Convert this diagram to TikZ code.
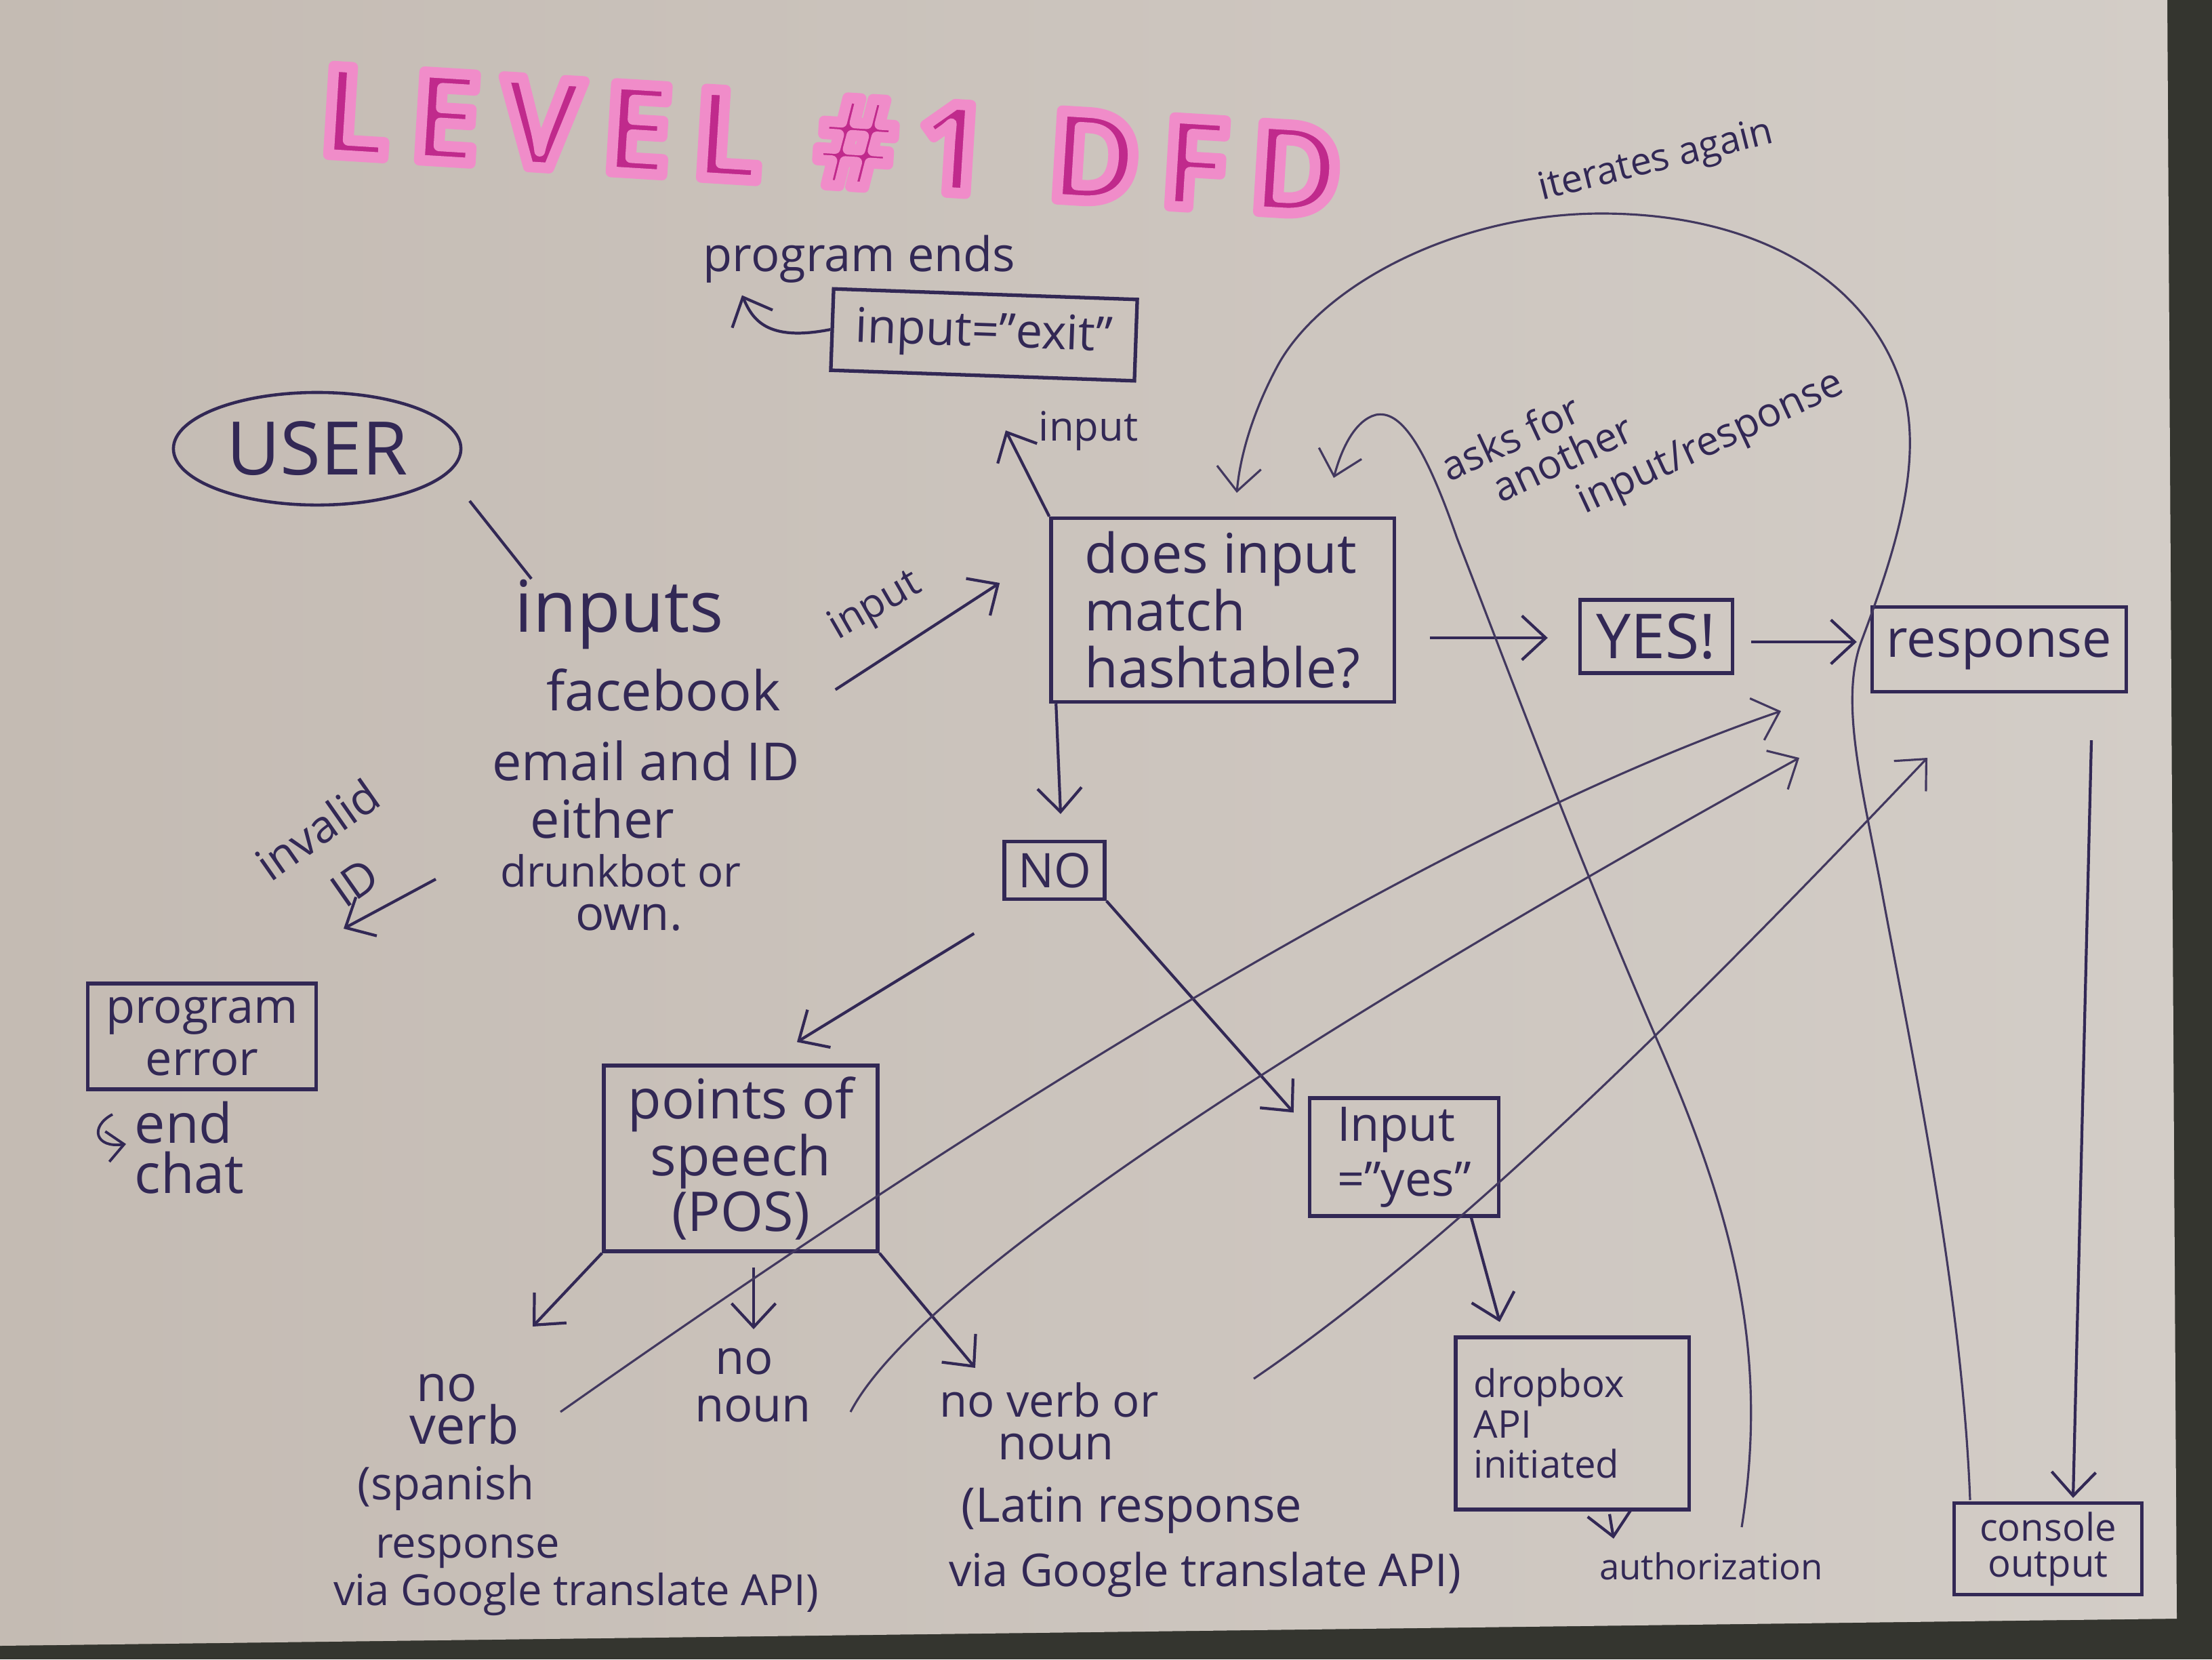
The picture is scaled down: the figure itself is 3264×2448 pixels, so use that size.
\documentclass[tikz,border=0pt]{standalone}
\usepackage{fontspec}
\setmainfont{Open Sans}
\usetikzlibrary{arrows.meta,calc,shapes.geometric}
\definecolor{ink}{HTML}{322855}
\definecolor{paper}{HTML}{CDC5BE}
\definecolor{paperl}{HTML}{C4BBB3}
\definecolor{paperr}{HTML}{D3CDC7}
\definecolor{darkbg}{HTML}{34352F}
\definecolor{mag}{HTML}{C02A8C}
\definecolor{hl}{HTML}{EE88C6}
\newcommand{\tsz}[1]{\fontsize{#1}{#1}\selectfont}
\newcommand{\ttlfont}{\fontsize{52}{56}\selectfont\bfseries\addfontfeature{LetterSpace=17}}
\newcommand{\hlon}{\special{pdf:literal direct 2 Tr 1 j 1 J 4.5 w 0.94 0.55 0.79 RG}}
\newcommand{\hloff}{\special{pdf:literal direct 0 Tr}}
\begin{document}
\begin{tikzpicture}[x=0.01cm,y=-0.01cm,
  lbl/.style={text=ink, inner sep=0pt},
  boxn/.style={draw=ink, line width=1.5pt, text=ink, inner sep=2pt, align=center},
  arr/.style={draw=ink, line width=1.2pt, -{Straight Barb[length=3.5mm,width=6.5mm]}},
  arrs/.style={draw=ink, line width=1.1pt, -{Straight Barb[length=2.5mm,width=4.5mm]}},
  thinarr/.style={draw=ink!90!paper, line width=0.9pt, -{Straight Barb[length=3.5mm,width=6.5mm]}},
  plain/.style={draw=ink, line width=1.2pt}]
\useasboundingbox (0,0) rectangle (3264,2448);
\fill[darkbg] (0,0) rectangle (3264,2448);
\shade[left color=paperl, right color=paperr] (0,0) -- (3198,0) -- (3212,2388) -- (0,2428) -- cycle;

% title: magenta letters stroked with a pink highlighter band
\node[text=mag, inner sep=0pt, rotate=-3.5, font=\ttlfont] (title) at (1226,208) {\hlon LEVEL \#1\hspace*{0.9cm}DFD\hloff};

% user
\node[ellipse, draw=ink, line width=1.3pt, minimum width=4.24cm, minimum height=1.66cm, text=ink, font=\tsz{31}] (user) at (468,662) {USER};
\node[lbl, font=\tsz{30}, anchor=base] (u1) at (914,932) {inputs};
\node[lbl, font=\tsz{23}, anchor=base] (u2) at (979,1048) {facebook};
\node[lbl, font=\tsz{22}, anchor=base] (u3) at (953,1151) {email and ID};
\node[lbl, font=\tsz{22}, anchor=base] (u4) at (889,1236) {either};
\node[lbl, font=\tsz{18}, anchor=base] (u5) at (916,1308) {drunkbot or};
\node[lbl, font=\tsz{20}, anchor=base] (u6) at (928,1372) {own.};
\draw[plain] ($(user.center)+(225,77)$) -- ($(u1.north west)+(25,0)$);

% exit
\node[lbl, font=\tsz{20}, anchor=base] (pend) at (1268,400) {program ends};
\node[boxn, font=\tsz{20}, minimum width=4.48cm, minimum height=1.2cm, rotate=-2] (exit) at (1452,494) {input="exit"};
\draw[arr] (exit.west) .. controls (1130,505) and (1110,470) .. ($(pend.south west)+(58,18)$);

% main decision
\node[boxn, font=\fontsize{23}{24}\selectfont, minimum width=5.06cm, minimum height=2.71cm, align=left] (dib) at (1804,900) {does input\\match\\hashtable?};
\node[lbl, font=\tsz{17}, rotate=30] (inlbl) at (1292,895) {input};
\draw[arr] ($(u2.east)+(80,0)$) -- ($(dib.west)+(-73,-40)$);
\coordinate (intip) at (1484,635);
\draw[arr] (dib.north west) -- (intip);
\node[lbl, font=\tsz{17}, anchor=base] (inup) at (1606,650) {input};

\node[boxn, font=\tsz{26}, minimum width=2.25cm, minimum height=1.08cm] (yes) at (2444,939) {YES!};
\node[boxn, font=\tsz{22}, minimum width=3.75cm, minimum height=1.25cm] (resp) at (2950,958) {response};
\node[boxn, font=\fontsize{16}{15}\selectfont, minimum width=2.77cm, minimum height=1.35cm] (cons) at (3022,2285) {console\\output};
\draw[arr] ($(dib.east)+(50,41)$) -- ($(yes.west)+(-45,2)$);
\draw[arr] ($(yes.east)+(25,8)$) -- ($(resp.west)+(-20,-11)$);
\draw[arr] ($(resp.south)+(136,69)$) -- ($(cons.north)+(37,-5)$);

% NO branch
\node[boxn, font=\tsz{20}, minimum width=1.48cm, minimum height=0.85cm] (no) at (1556,1284) {NO};
\draw[arr] ($(dib.south west)+(10,0)$) -- ($(no.north)+(9,-38)$);
\node[boxn, font=\fontsize{23}{21}\selectfont, minimum width=4.04cm, minimum height=2.74cm] (pos) at (1093,1709) {points of\\speech\\(POS)};
\draw[arr] ($(no.south west)+(-42,48)$) -- ($(pos.north)+(83,-32)$);
\node[boxn, font=\fontsize{20}{23}\selectfont, minimum width=2.79cm, minimum height=1.74cm, align=left] (iy) at (2072,1707) {Input\\="yes"};
\draw[arr] (no.south east) -- ($(iy.north west)+(-21,24)$);
\node[boxn, font=\fontsize{16}{17}\selectfont, minimum width=3.44cm, minimum height=2.54cm, align=left, text width=2.9cm] (db) at (2320,2100) {dropbox\\API\\initiated};
\draw[arr] ($(iy.south)+(99,0)$) -- ($(db.north)+(-107,-20)$);
\node[lbl, font=\tsz{15}, anchor=base] (auth) at (2525,2330) {authorization};
\coordinate (autip) at (2381,2270);
\draw[arr] ($(db.south)+(55,4)$) -- (autip);

% POS leaves
\node[lbl, font=\tsz{21}, anchor=base] (nv1) at (659,2067) {no};
\node[lbl, font=\tsz{22}, anchor=base] (nv2) at (685,2130) {verb};
\node[lbl, font=\tsz{19}, anchor=base] (nv3) at (658,2212) {(spanish};
\node[lbl, font=\tsz{18}, anchor=base] (nv4) at (690,2298) {response};
\node[lbl, font=\tsz{18}, anchor=base] (nv5) at (850,2368) {via Google translate API)};
\node[lbl, font=\tsz{20}, anchor=base] (nn1) at (1098,2027) {no};
\node[lbl, font=\tsz{20}, anchor=base] (nn2) at (1111,2097) {noun};
\node[lbl, font=\tsz{19}, anchor=base] (vn1) at (1548,2090) {no verb or};
\node[lbl, font=\tsz{20}, anchor=base] (vn2) at (1558,2153) {noun};
\node[lbl, font=\tsz{20}, anchor=base] (vn3) at (1670,2245) {(Latin response};
\node[lbl, font=\tsz{19}, anchor=base] (vn4) at (1778,2340) {via Google translate API)};
\coordinate (tv) at (786,1957);
\coordinate (tn) at (1112,1961);
\coordinate (tvn) at (1439,2018);
\draw[arr] (pos.south west) -- (tv);
\draw[arr] ($(pos.south)+(19,21)$) -- (tn);
\draw[arr] (pos.south east) -- (tvn);

% invalid / error
\node[lbl, font=\fontsize{19}{27}\selectfont, rotate=35, align=center] (inv) at (495,1262) {invalid\\ID};
\coordinate (iva) at (643,1297);
\coordinate (ivb) at (507,1370);
\draw[arr] (iva) -- (ivb);
\node[boxn, font=\fontsize{20}{22}\selectfont, minimum width=3.37cm, minimum height=1.56cm] (perr) at (298,1529) {program\\error};
\node[lbl, font=\fontsize{23}{21}\selectfont, align=left, anchor=north west] (endc) at (198,1624) {end\\chat};
\coordinate (hk) at (166,1644);
\draw[arrs] (hk) .. controls (132,1662) and (140,1694) .. ($(endc.west)+(-12,-5)$);

% long return lines
\coordinate (la0) at (827,2083); \coordinate (la1) at (2628,1049);
\coordinate (lb0) at (1255,2083); \coordinate (lb1) at (2655,1118);
\coordinate (lc0) at (1850,2034); \coordinate (lc1) at (2844,1118);
\draw[thinarr] (la0) .. controls (1400,1680) and (2100,1230) .. (la1);
\draw[thinarr] (lb0) .. controls (1360,1880) and (2000,1480) .. (lb1);
\draw[thinarr] (lc0) .. controls (2150,1830) and (2500,1480) .. (lc1);

% asks for another input/response
\coordinate (ak0) at (2570,2253); \coordinate (ak1) at (1968,705);
\draw[thinarr] (ak0) .. controls (2610,2000) and (2560,1800) .. (2452,1550)
  .. controls (2330,1270) and (2230,1000) .. (2150,794)
  .. controls (2100,650) and (2065,605) .. (2030,612)
  .. controls (2000,620) and (1980,660) .. (ak1);
\node[lbl, font=\tsz{17}, rotate=25] (ask1) at (2228,645) {asks for};
\node[lbl, font=\tsz{17}, rotate=25] (ask2) at (2305,675) {another};
\node[lbl, font=\tsz{17}, rotate=25] (ask3) at (2525,655) {input/response};

% iterates again
\coordinate (it0) at (2907,2213); \coordinate (it1) at (1825,727);
\draw[thinarr] (it0) .. controls (2895,1900) and (2820,1550) .. (2774,1300)
  .. controls (2745,1150) and (2715,1030) .. (2747,945)
  .. controls (2790,830) and (2835,700) .. (2812,590)
  .. controls (2770,420) and (2600,315) .. (2363,315)
  .. controls (2150,315) and (1950,420) .. (1885,540)
  .. controls (1850,605) and (1830,670) .. (it1);
\node[lbl, font=\tsz{16}, rotate=14] (iter) at (2444,239) {iterates again};
\end{tikzpicture}
\end{document}
